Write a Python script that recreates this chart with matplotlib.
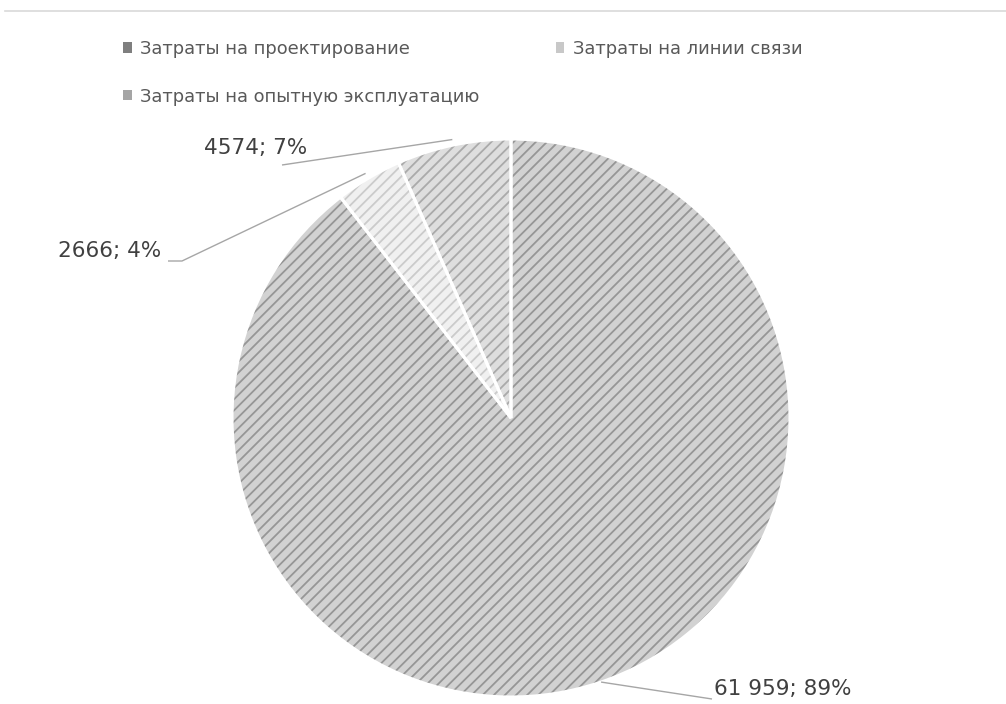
import matplotlib
matplotlib.use("Agg")
import matplotlib.pyplot as plt
from matplotlib.patches import Patch
from matplotlib.lines import Line2D
import numpy as np

categories = ["Затраты на проектирование", "Затраты на линии связи", "Затраты на опытную эксплуатацию"]
values = [61959, 2666, 4574]
value_labels = ["61 959", "2666", "4574"]
percents = [89, 4, 7]

bg_colors = ["#d2d2d2", "#f0f0f0", "#dedede"]
fg_colors = ["#969696", "#cbcbcb", "#aaaaaa"]
legend_colors = ["#7f7f7f", "#c8c8c8", "#a5a5a5"]

plt.rcParams['font.family'] = ['DejaVu Sans']
plt.rcParams['hatch.linewidth'] = 1.3

W, H = 1006, 704
fig = plt.figure(figsize=(W / 100, H / 100), dpi=100)
fig.patch.set_facecolor("white")

cx, cy, R = 511, 418, 279
ax = fig.add_axes([(cx - R) / W, (H - cy - R) / H, 2 * R / W, 2 * R / H])
ax.set_xlim(-1, 1)
ax.set_ylim(-1, 1)
ax.set_aspect('equal')
ax.axis('off')

# base fills
wedges, _ = ax.pie(values, startangle=90, counterclock=False, radius=1,
                   colors=bg_colors, wedgeprops=dict(linewidth=0))
# hatch overlay
hw, _ = ax.pie(values, startangle=90, counterclock=False, radius=1,
               wedgeprops=dict(facecolor='none', linewidth=0))
for w, c in zip(hw, fg_colors):
    w.set_hatch('///')
    w.set_edgecolor(c)
# separators
sw, _ = ax.pie(values, startangle=90, counterclock=False, radius=1,
               wedgeprops=dict(facecolor='none', edgecolor='white', linewidth=2.2))
ax.set_xlim(-1, 1)
ax.set_ylim(-1, 1)

def px(x, y):
    return ((x - cx) / R, (cy - y) / R)

# label layout (pixel positions of text centre, leader points)
text_pos = [(783, 689), (110, 251), (256, 148)]
leader_end = [[(712, 699)], [(168, 261), (182, 261)], [(282, 165)]]

for w, vl, p, tp, le in zip(wedges, value_labels, percents, text_pos, leader_end):
    mid = np.deg2rad((w.theta1 + w.theta2) / 2)
    r0 = 1.0 if p > 50 else 1.02
    start = (r0 * np.cos(mid), r0 * np.sin(mid))
    seq = [start] + [px(*q) for q in reversed(le)]
    xs = [s[0] for s in seq]
    ys = [s[1] for s in seq]
    ax.plot(xs, ys, color="#a6a6a6", lw=1.0, clip_on=False, solid_capstyle='butt')
    tx, ty = px(*tp)
    ax.text(tx, ty, f"{vl}; {p}%", ha='center', va='center', fontsize=15.5,
            color="#404040", clip_on=False)

# legend
handles = [Patch(facecolor=c, edgecolor='none') for c in legend_colors]
order = [0, 2, 1]
leg = fig.legend([handles[i] for i in order], [categories[i] for i in order],
                 ncol=2, loc='upper left', bbox_to_anchor=(114 / W, 1 - 31 / H),
                 frameon=False, fontsize=12.9, labelcolor="#595959",
                 handlelength=0.5, handleheight=0.5, handletextpad=0.45,
                 columnspacing=4.25, labelspacing=1.65, borderpad=0)

# top border line
fig.add_artist(Line2D([5 / W, 1], [1 - 10.5 / H, 1 - 10.5 / H], color="#d9d9d9", lw=1.2))

fig.savefig("out.png", dpi=100, facecolor="white")
